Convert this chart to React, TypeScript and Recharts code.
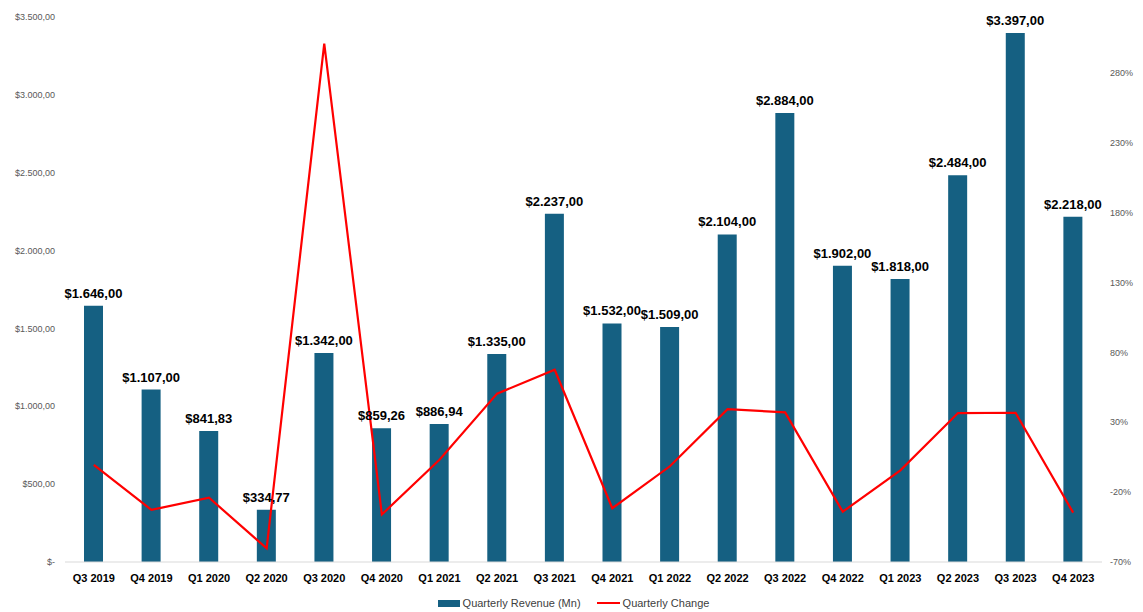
import {
  Bar,
  ComposedChart,
  LabelList,
  Legend,
  Line,
  XAxis,
  YAxis
} from "recharts";

const quarters = ['Q3 2019', 'Q4 2019', 'Q1 2020', 'Q2 2020', 'Q3 2020', 'Q4 2020', 'Q1 2021', 'Q2 2021', 'Q3 2021',
  'Q4 2021', 'Q1 2022', 'Q2 2022', 'Q3 2022', 'Q4 2022', 'Q1 2023', 'Q2 2023', 'Q3 2023', 'Q4 2023']
const revenue = [1646, 1107, 841.83, 334.77, 1342, 859.26, 886.94, 1335, 2237,
  1532, 1509, 2104, 2884, 1902, 1818, 2484, 3397, 2218]
const change = [-0.005, -0.327, -0.24, -0.602, 3.009, -0.36, 0.032, 0.505, 0.676,
  -0.315, -0.015, 0.394, 0.371, -0.34, -0.044, 0.366, 0.368, -0.347]
const revenueTicks = [0, 500, 1000, 1500, 2000, 2500, 3000, 3500]
const changeTicks = [-0.7, -0.2, 0.3, 0.8, 1.3, 1.8, 2.3, 2.8]

const BLUE = '#156082'
const RED = '#ff0000'
const FONT = '"Liberation Sans", Arial, sans-serif'

// 1234.5 -> "1.234,50"
function euroNum(v: number) {
  const [int, dec] = v.toFixed(2).split('.')
  return int.replace(/\B(?=(\d{3})+(?!\d))/g, '.') + ',' + dec
}

const data = quarters.map((q, i) => ({ name: q, rev: revenue[i], chg: change[i] }))

function LegendBox() {
  return (
    <div style={{ display: 'flex', justifyContent: 'center', gap: 16, fontSize: 11, color: '#404040', fontFamily: FONT, paddingLeft: 4, paddingTop: 5 }}>
      <div style={{ display: 'flex', alignItems: 'center' }}>
        <span style={{ display: 'inline-block', width: 22, height: 7, background: BLUE, marginRight: 3 }} />
        Quarterly Revenue (Mn)
      </div>
      <div style={{ display: 'flex', alignItems: 'center' }}>
        <span style={{ display: 'inline-block', width: 23, height: 2, background: RED, marginRight: 3 }} />
        Quarterly Change
      </div>
    </div>
  )
}

export default function App() {
  return (
    <div style={{ position: 'absolute', left: 0, top: 0 }}>
      <ComposedChart width={1143} height={612} data={data} margin={{ top: 17, right: 0, bottom: 0, left: 0 }} barCategoryGap={0}>
        <XAxis
          dataKey='name'
          height={30}
          tickLine={false}
          axisLine={{ stroke: '#d9d9d9' }}
          interval={0}
          tick={{ fontSize: 11, fontWeight: 'bold', fill: '#000', fontFamily: FONT }}
          tickMargin={6}
        />
        <YAxis
          yAxisId='rev'
          width={65}
          domain={[0, 3500]}
          ticks={revenueTicks}
          axisLine={false}
          tickLine={false}
          tickMargin={4}
          tick={{ fontSize: 9, fill: '#595959', fontFamily: FONT }}
          tickFormatter={(v: number) => v === 0 ? '$-' : '$' + euroNum(v)}
        />
        <YAxis
          yAxisId='chg'
          orientation='right'
          width={41}
          domain={[-0.7, 3.2]}
          ticks={changeTicks}
          axisLine={false}
          tickLine={false}
          tickMargin={2}
          tick={{ fontSize: 9, fill: '#595959', fontFamily: FONT }}
          tickFormatter={(v: number) => Math.round(v * 100) + '%'}
        />
        <Legend verticalAlign='bottom' height={20} content={() => <LegendBox />} />
        <Bar yAxisId='rev' dataKey='rev' fill={BLUE} barSize={19} isAnimationActive={false}>
          <LabelList
            dataKey='rev'
            position='top'
            offset={8}
            formatter={(v: any) => '$' + euroNum(Number(v))}
            style={{ fontSize: 13, fontWeight: 'bold', fill: '#000', fontFamily: FONT }}
          />
        </Bar>
        <Line yAxisId='chg' dataKey='chg' stroke={RED} strokeWidth={2.2} dot={false} activeDot={false} isAnimationActive={false} />
      </ComposedChart>
    </div>
  )
}
